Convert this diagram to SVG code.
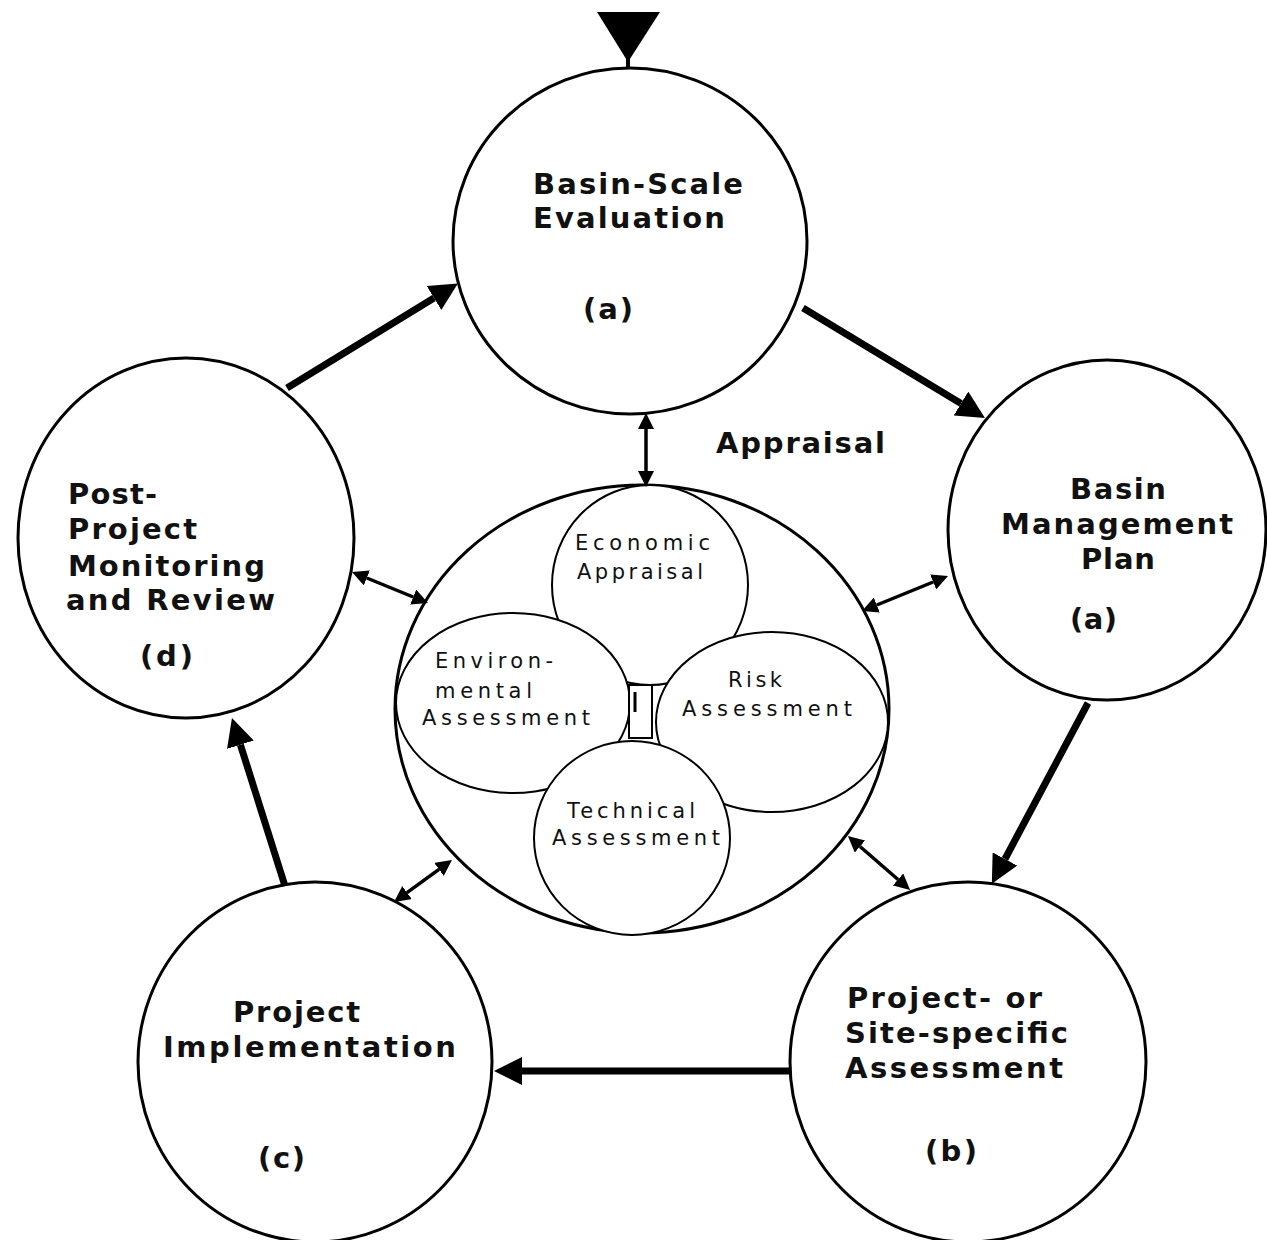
<svg xmlns="http://www.w3.org/2000/svg" width="1267" height="1240" viewBox="0 0 1267 1240">
<style>
.node{fill:#fff;stroke:#000;stroke-width:3}
.inner{fill:#fff;stroke:#000;stroke-width:2}
.lbl{font-family:"DejaVu Sans","Verdana",sans-serif;font-weight:bold;font-size:29px;fill:#111}
.sub{font-family:"DejaVu Sans","Verdana",sans-serif;font-size:21px;fill:#111}
.thick{stroke:#000;stroke-width:7;fill:none}
.thin{stroke:#000;stroke-width:3.5;fill:none}
</style>
<defs>
<marker id="big" markerUnits="userSpaceOnUse" markerWidth="28" markerHeight="28" viewBox="0 0 28 28" refX="0" refY="14" orient="auto"><path d="M0,0 L28,14 L0,28 z" fill="#000"/></marker>
<marker id="sm" markerUnits="userSpaceOnUse" markerWidth="16" markerHeight="16" viewBox="0 0 16 16" refX="0" refY="8" orient="auto-start-reverse"><path d="M0,0 L16,8 L0,16 z" fill="#000"/></marker>
</defs>
<rect width="1267" height="1240" fill="#fff"/>

<g id="center">
<ellipse class="node" cx="642" cy="709" rx="247" ry="224"/>
<g id="economic"><ellipse class="inner" cx="650" cy="585" rx="98" ry="100"/></g>
<g id="environmental"><ellipse class="inner" cx="513" cy="703" rx="117" ry="90"/></g>
<g id="risk"><ellipse class="inner" cx="772" cy="722" rx="116" ry="90"/></g>
<g id="technical"><ellipse class="inner" cx="632" cy="838" rx="98" ry="97"/></g>
<rect x="629" y="685" width="23" height="53" fill="#fff" stroke="#000" stroke-width="2"/>
<line x1="635" y1="692" x2="635" y2="712" stroke="#000" stroke-width="3"/>
<text class="sub" x="575" y="550" textLength="135" lengthAdjust="spacing">Economic</text>
<text class="sub" x="577" y="579" textLength="126" lengthAdjust="spacing">Appraisal</text>
<text class="sub" x="435" y="668" textLength="118" lengthAdjust="spacing">Environ-</text>
<text class="sub" x="435" y="698" textLength="97" lengthAdjust="spacing">mental</text>
<text class="sub" x="422" y="725" textLength="168" lengthAdjust="spacing">Assessment</text>
<text class="sub" x="728" y="687" textLength="54" lengthAdjust="spacing">Risk</text>
<text class="sub" x="682" y="716" textLength="170" lengthAdjust="spacing">Assessment</text>
<text class="sub" x="567" y="818" textLength="128" lengthAdjust="spacing">Technical</text>
<text class="sub" x="552" y="845" textLength="168" lengthAdjust="spacing">Assessment</text>
</g>

<g id="basin-scale">
<ellipse class="node" cx="630" cy="241" rx="177" ry="173"/>
<text class="lbl" x="533" y="194" textLength="210" lengthAdjust="spacing">Basin-Scale</text>
<text class="lbl" x="533" y="228" textLength="192" lengthAdjust="spacing">Evaluation</text>
<text class="lbl" x="583" y="319" textLength="50" lengthAdjust="spacing">(a)</text>
</g>

<g id="basin-plan">
<ellipse class="node" cx="1107" cy="530" rx="159" ry="170"/>
<text class="lbl" x="1070" y="499" textLength="96" lengthAdjust="spacing">Basin</text>
<text class="lbl" x="1001" y="534" textLength="232" lengthAdjust="spacing">Management</text>
<text class="lbl" x="1081" y="569" textLength="74" lengthAdjust="spacing">Plan</text>
<text class="lbl" x="1070" y="629" textLength="47" lengthAdjust="spacing">(a)</text>
</g>

<g id="post-project">
<ellipse class="node" cx="186" cy="538" rx="168" ry="180"/>
<text class="lbl" x="68" y="504" textLength="89" lengthAdjust="spacing">Post-</text>
<text class="lbl" x="68" y="539" textLength="129" lengthAdjust="spacing">Project</text>
<text class="lbl" x="68" y="576" textLength="197" lengthAdjust="spacing">Monitoring</text>
<text class="lbl" x="66" y="610" textLength="209" lengthAdjust="spacing">and Review</text>
<text class="lbl" x="140" y="666" textLength="53" lengthAdjust="spacing">(d)</text>
</g>

<g id="implementation">
<ellipse class="node" cx="315" cy="1062" rx="177" ry="180"/>
<text class="lbl" x="233" y="1022" textLength="127" lengthAdjust="spacing">Project</text>
<text class="lbl" x="163" y="1057" textLength="293" lengthAdjust="spacing">Implementation</text>
<text class="lbl" x="258" y="1168" textLength="47" lengthAdjust="spacing">(c)</text>
</g>

<g id="site-assessment">
<ellipse class="node" cx="968" cy="1062" rx="178" ry="180"/>
<text class="lbl" x="847" y="1008" textLength="195" lengthAdjust="spacing">Project- or</text>
<text class="lbl" x="845" y="1043" textLength="223" lengthAdjust="spacing">Site-specific</text>
<text class="lbl" x="845" y="1078" textLength="218" lengthAdjust="spacing">Assessment</text>
<text class="lbl" x="925" y="1161" textLength="52" lengthAdjust="spacing">(b)</text>
</g>

<text class="lbl" x="716" y="453" textLength="169" lengthAdjust="spacing">Appraisal</text>

<g id="connectors">
<polygon points="597,12 660,12 628,62" fill="#000"/>
<line x1="628" y1="58" x2="628" y2="69" stroke="#000" stroke-width="4"/>
<line class="thick" x1="287" y1="388" x2="434" y2="298" marker-end="url(#big)"/>
<line class="thick" x1="803" y1="308" x2="961" y2="403.5" marker-end="url(#big)"/>
<line class="thick" x1="1088" y1="703" x2="1005" y2="859" marker-end="url(#big)"/>
<line class="thick" x1="790" y1="1071" x2="522" y2="1071" stroke-width="9" marker-end="url(#big)"/>
<line class="thick" x1="285" y1="886" x2="240.4" y2="744.7" marker-end="url(#big)"/>
<line class="thin" x1="646" y1="429" x2="646" y2="471" marker-start="url(#sm)" marker-end="url(#sm)"/>
<line class="thin" x1="366.8" y1="578" x2="413.2" y2="597" marker-start="url(#sm)" marker-end="url(#sm)"/>
<line class="thin" x1="933.2" y1="582" x2="876.8" y2="605" marker-start="url(#sm)" marker-end="url(#sm)"/>
<line class="thin" x1="407" y1="892.6" x2="439" y2="869.4" marker-start="url(#sm)" marker-end="url(#sm)"/>
<line class="thin" x1="860" y1="846.5" x2="898" y2="879.5" marker-start="url(#sm)" marker-end="url(#sm)"/>
</g>
</svg>
